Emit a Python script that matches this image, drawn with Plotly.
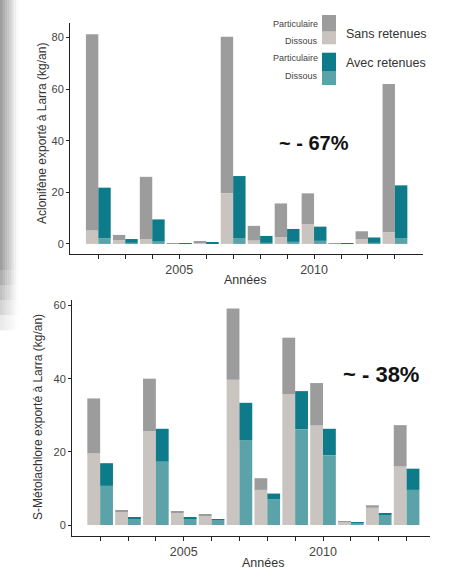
import plotly.graph_objects as go

W, H = 454, 571

years = list(range(2002, 2014))

# Aclonifène (kg/an) - totals and dissolved parts
acl_sans_total = [81.2, 3.5, 26.0, 0.3, 1.0, 80.3, 7.0, 15.7, 19.6, 0.3, 4.9, 62.0]
acl_sans_dissous = [5.2, 1.5, 1.8, 0.2, 0.6, 19.6, 1.3, 2.6, 7.7, 0.2, 1.8, 4.5]
acl_avec_total = [21.8, 1.9, 9.5, 0.2, 0.5, 26.3, 3.1, 5.8, 6.7, 0.2, 2.5, 22.7]
acl_avec_dissous = [2.2, 0.5, 0.9, 0.1, 0.3, 2.3, 0.5, 0.8, 1.2, 0.1, 0.5, 2.1]

# S-Métolachlore (kg/an)
met_sans_total = [34.6, 4.0, 40.0, 3.6, 3.0, 59.2, 12.8, 51.2, 38.8, 1.1, 5.4, 27.3]
met_sans_dissous = [19.6, 3.6, 25.7, 3.3, 2.7, 39.7, 9.6, 35.8, 27.2, 1.0, 4.7, 16.0]
met_avec_total = [16.9, 2.1, 26.3, 2.2, 1.6, 33.4, 8.6, 36.6, 26.3, 0.8, 3.1, 15.4]
met_avec_dissous = [10.7, 1.8, 17.3, 1.9, 1.4, 23.1, 7.0, 26.2, 19.1, 0.7, 2.8, 9.6]

tick_labels = {2005: "2005", 2010: "2010"}

C_GRAY_P = "#9c9c9c"
C_GRAY_D = "#cac4c1"
C_TEAL_P = "#0d7b89"
C_TEAL_D = "#5ba3a8"

FONT = "Liberation Sans, Arial, sans-serif"

fig = go.Figure()


def add_pair(total, dissous, group, cp, cd, xa, ya):
    part = [t - d for t, d in zip(total, dissous)]
    fig.add_trace(go.Bar(x=years, y=dissous, marker=dict(color=cd, line=dict(width=0)),
                         offsetgroup=group, xaxis=xa, yaxis=ya, showlegend=False))
    fig.add_trace(go.Bar(x=years, y=part, base=dissous, marker=dict(color=cp, line=dict(width=0)),
                         offsetgroup=group, xaxis=xa, yaxis=ya, showlegend=False))


add_pair(acl_sans_total, acl_sans_dissous, "s1", C_GRAY_P, C_GRAY_D, "x", "y")
add_pair(acl_avec_total, acl_avec_dissous, "a1", C_TEAL_P, C_TEAL_D, "x", "y")
add_pair(met_sans_total, met_sans_dissous, "s2", C_GRAY_P, C_GRAY_D, "x2", "y2")
add_pair(met_avec_total, met_avec_dissous, "a2", C_TEAL_P, C_TEAL_D, "x2", "y2")


def px_x(p):
    return p / W


def px_y(p):
    return 1 - p / H


tickvals = years
ticktext = [tick_labels.get(y, "") for y in years]

xcommon = dict(tickmode="array", tickvals=tickvals, ticktext=ticktext, ticks="outside",
               ticklen=4, tickcolor="#222", showline=True, linecolor="#222", linewidth=1,
               showgrid=False, zeroline=False, tickfont=dict(size=12.5, color="#444", family=FONT))
ycommon = dict(tickmode="array", tickvals=[0, 20, 40, 60, 80], ticks="outside", ticklen=3,
               tickcolor="#222", showline=True, linecolor="#222", linewidth=1, showgrid=False,
               zeroline=False, tickfont=dict(size=11, color="#444", family=FONT))

fig.update_layout(
    width=W, height=H, margin=dict(l=0, r=0, t=0, b=0),
    paper_bgcolor="white", plot_bgcolor="white",
    barmode="group", bargap=0.08, bargroupgap=0,
    xaxis=dict(domain=[px_x(70), px_x(423)], range=[2000.95, 2014.04], anchor="y", **xcommon),
    yaxis=dict(domain=[px_y(254), px_y(23)], range=[-3.9, 85.6], anchor="x", **ycommon),
    xaxis2=dict(domain=[px_x(72), px_x(430)], range=[2000.99, 2013.84], anchor="y2", **xcommon),
    yaxis2=dict(domain=[px_y(536), px_y(300)], range=[-3.0, 61.5], anchor="x2", **ycommon),
    font=dict(family=FONT),
)


def blend(g, f):
    v = int(round(g + (255 - g) * f))
    return f"#{v:02x}{v:02x}{v:02x}"


shapes = []
# slide background strip on the left (horizontal gradient, fading out downward)
base_grays = [158, 166, 175, 185, 196, 207, 218, 229, 240, 249]
rows = [(0, 270, 0.0), (270, 285, 0.15), (285, 300, 0.35), (300, 315, 0.55), (315, 330, 0.78)]
for i, g in enumerate(base_grays):
    for y0, y1, f in rows:
        shapes.append(dict(type="rect", xref="paper", yref="paper", x0=px_x(i * 1.8), x1=px_x((i + 1) * 1.8 + 0.3),
                           y0=px_y(y1 + 0.3), y1=px_y(y0), fillcolor=blend(g, f), line=dict(width=0),
                           layer="below"))
# legend swatches
sw = [(15, 31.7, C_GRAY_P), (31.7, 44.3, C_GRAY_D), (52.7, 71.7, C_TEAL_P), (71.7, 85, C_TEAL_D)]
for y0, y1, c in sw:
    shapes.append(dict(type="rect", xref="paper", yref="paper", x0=px_x(322), x1=px_x(336),
                       y0=px_y(y1), y1=px_y(y0), fillcolor=c, line=dict(width=0)))
fig.update_layout(shapes=shapes)

ann = []


def text(x, y, t, size=12, color="#333", xanchor="center", bold=False, angle=0):
    ann.append(dict(xref="paper", yref="paper", x=px_x(x), y=px_y(y), text=f"<b>{t}</b>" if bold else t,
                    showarrow=False, xanchor=xanchor, yanchor="middle", textangle=angle,
                    font=dict(size=size, color=color, family=FONT)))


text(320, 24, "Particulaire", 9, "#444", "right")
text(320, 41, "Dissous", 9, "#444", "right")
text(320, 58, "Particulaire", 9, "#444", "right")
text(320, 76, "Dissous", 9, "#444", "right")
text(344, 34, "Sans retenues", 12.5, "#333", "left")
text(344, 63, "Avec retenues", 12.5, "#333", "left")

text(314, 143, "~ - 67%", 20, "#111", bold=True)
text(381, 374, "~ - 38%", 22, "#111", bold=True)

text(42, 134, "Aclonifène exporté à Larra (kg/an)", 12, "#333", angle=-90)
text(38, 417, "S-Métolachlore exporté à Larra (kg/an)", 12, "#333", angle=-90)
text(245, 280, "Années", 12.5, "#333")
text(263, 563, "Années", 12.5, "#333")

fig.update_layout(annotations=ann)

fig.write_html("out.html", config={"displayModeBar": False},
               post_script="document.body.style.margin='0';document.body.style.overflow='hidden';")
